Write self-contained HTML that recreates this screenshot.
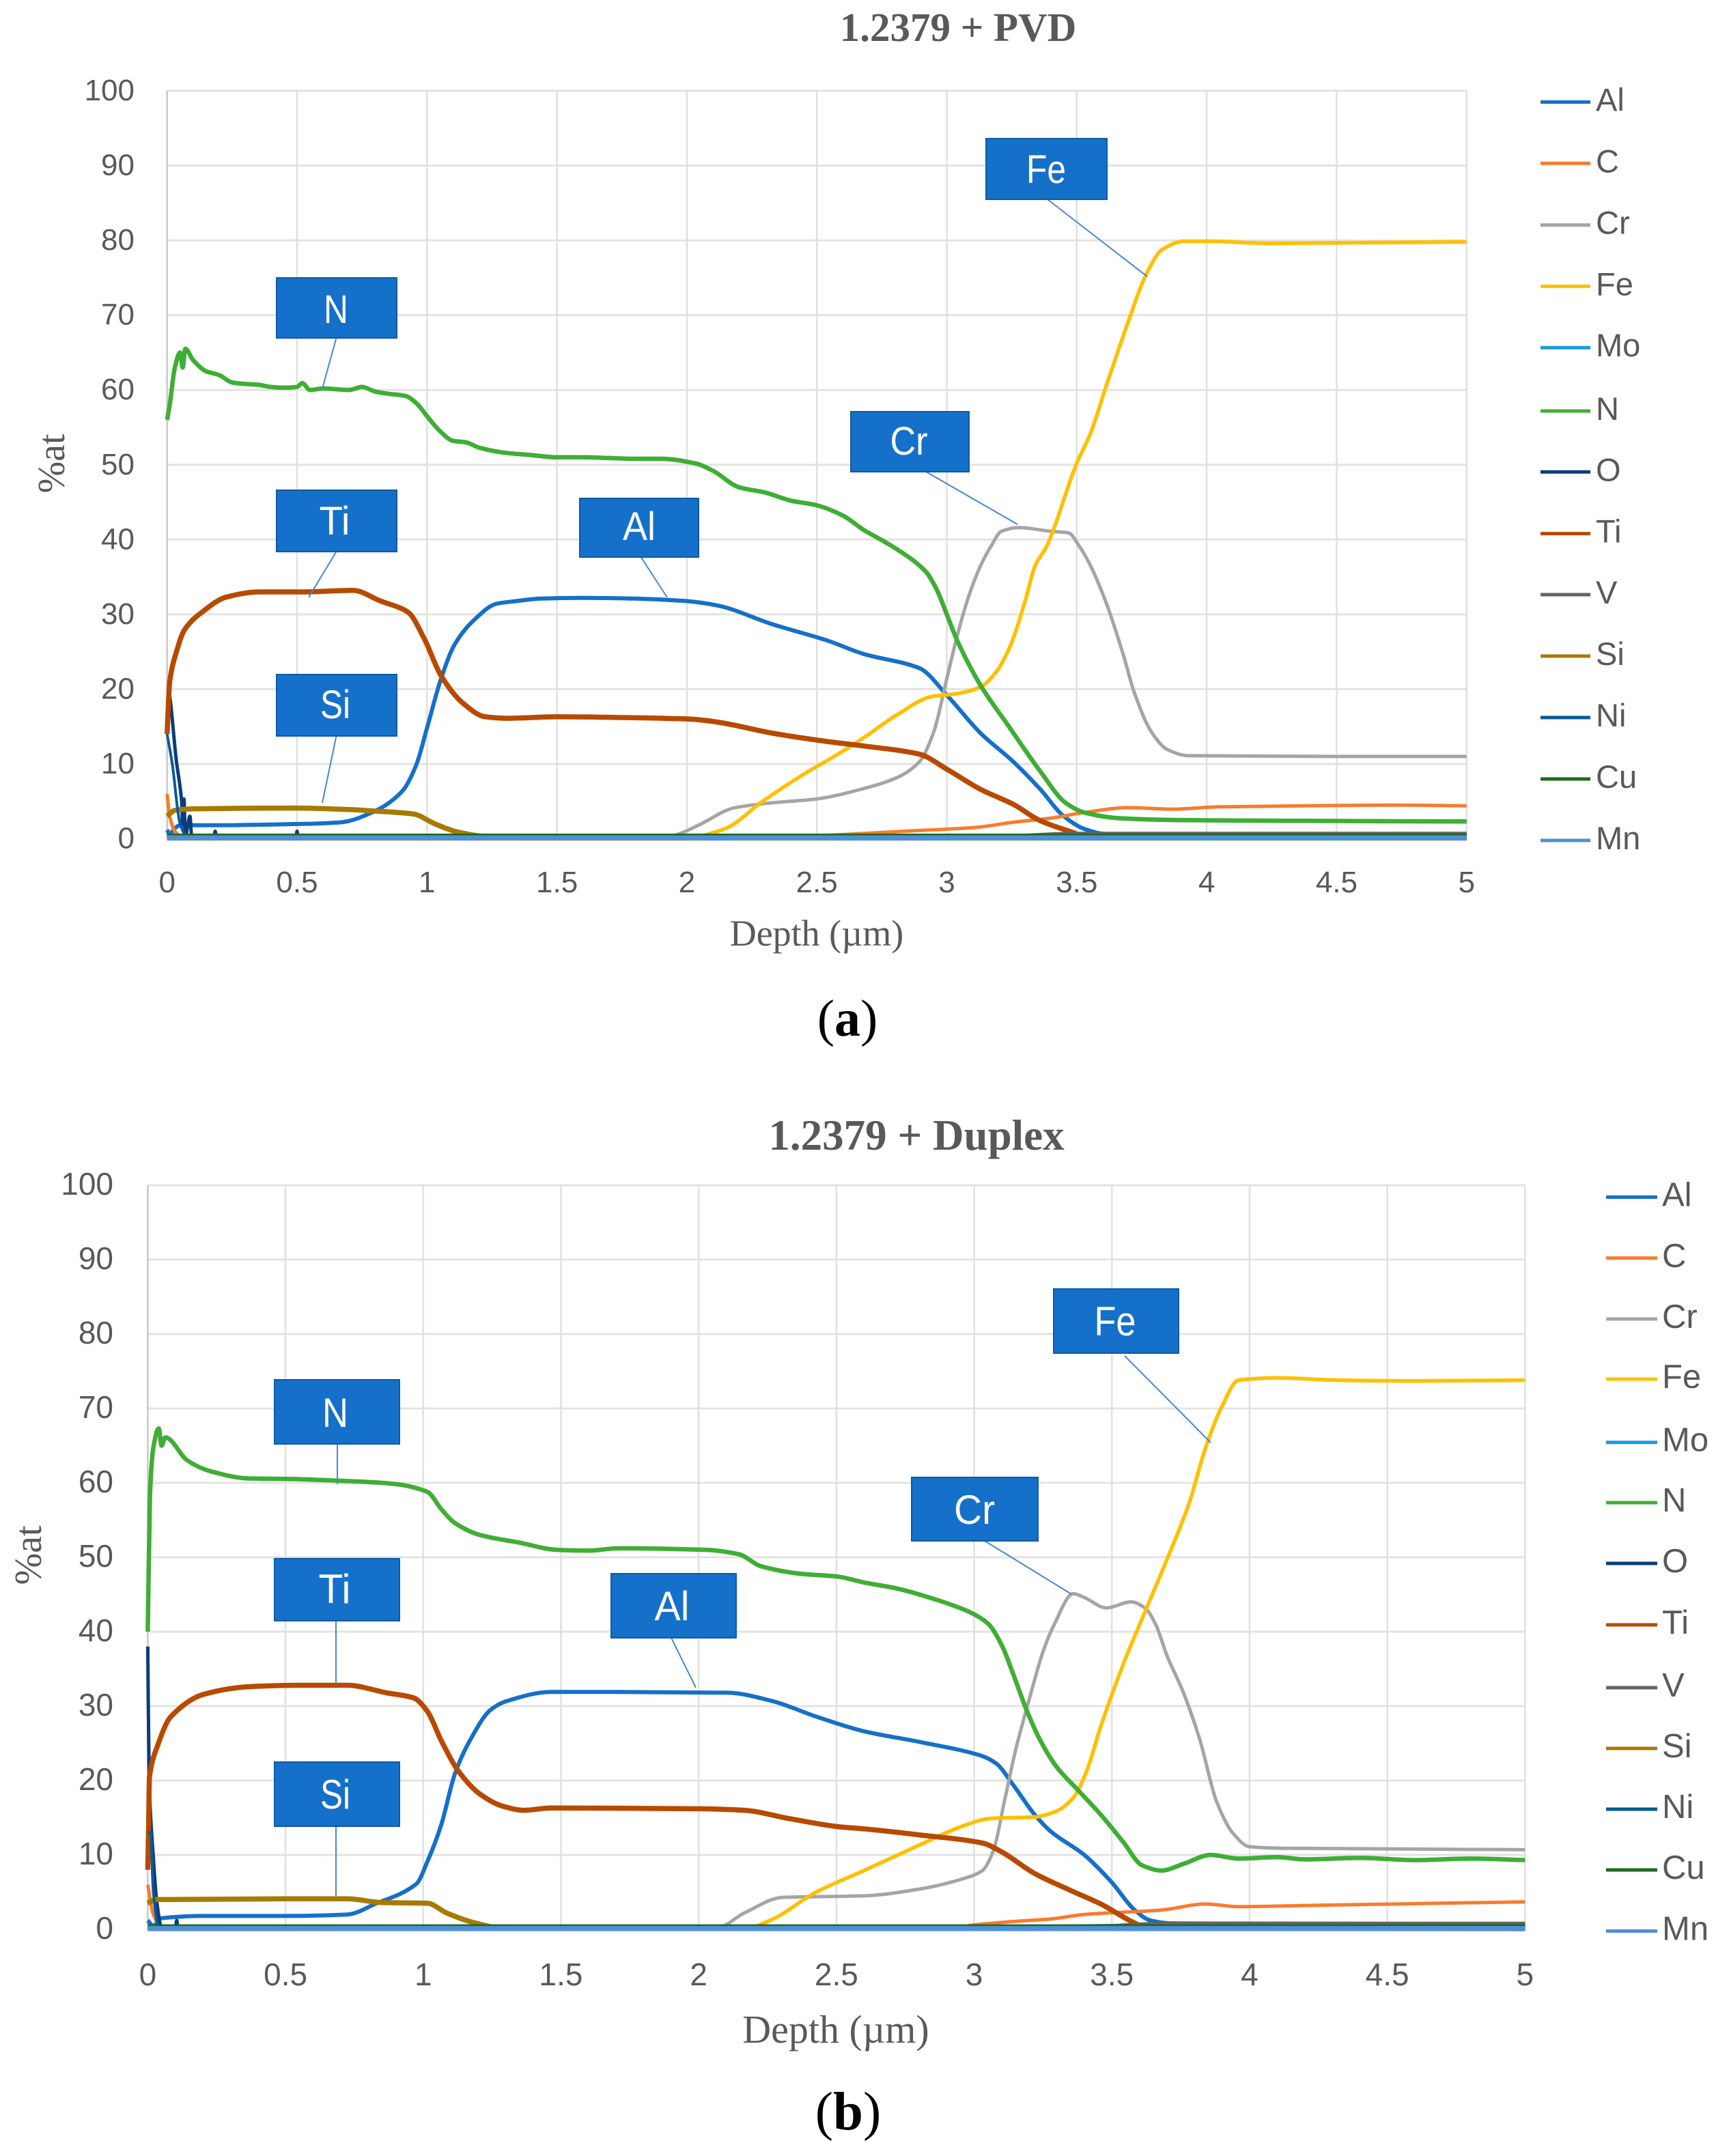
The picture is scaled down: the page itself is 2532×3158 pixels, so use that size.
<!DOCTYPE html>
<html lang="en">
<head>
<meta charset="utf-8">
<title>1.2379 depth profiles</title>
<style>
html,body{margin:0;padding:0;background:#fff;}
svg{display:block;}
.tick{font-family:"Liberation Sans",sans-serif;fill:#595959;}
.serif{font-family:"Liberation Serif",serif;fill:#595959;}
.box{fill:#1570c9;stroke:#0f5aa6;stroke-width:2;}
.boxt{font-family:"Liberation Sans",sans-serif;fill:#fff;text-anchor:middle;}
.lead{stroke:#4a86d0;stroke-width:2;fill:none;}
.cap{font-family:"Liberation Serif",serif;fill:#000;text-anchor:middle;}
</style>
</head>
<body>
<svg id="figure" xmlns="http://www.w3.org/2000/svg" width="2532" height="3158" viewBox="0 0 2532 3158">
<rect x="0" y="0" width="2532" height="3158" fill="#fff"/>

<g id="chartA">
<text class="serif" x="1403" y="60" font-size="59" font-weight="700" text-anchor="middle">1.2379 + PVD</text>
<text class="serif" x="1196" y="1385" font-size="54" text-anchor="middle">Depth (µm)</text>
<text class="serif" font-size="56" text-anchor="middle" transform="translate(94,679) rotate(-90)">%at</text>
</g>
<g id="calloutsA">
<line class="lead" x1="492.5" y1="495" x2="472" y2="569"/>
<line class="lead" x1="492.5" y1="808" x2="452" y2="875"/>
<line class="lead" x1="492.5" y1="1078" x2="472" y2="1176"/>
<line class="lead" x1="938" y1="815" x2="977" y2="875"/>
<line class="lead" x1="1356" y1="691" x2="1490" y2="768"/>
<line class="lead" x1="1534" y1="292" x2="1680" y2="405"/>
<rect class="box" x="405" y="407" width="176" height="88"/>
<text class="boxt" x="492" y="473" font-size="58" textLength="36" lengthAdjust="spacingAndGlyphs">N</text>
<rect class="box" x="405" y="718" width="176" height="90"/>
<text class="boxt" x="490" y="783" font-size="58" textLength="45" lengthAdjust="spacingAndGlyphs">Ti</text>
<rect class="box" x="405" y="988" width="176" height="90"/>
<text class="boxt" x="491" y="1052" font-size="58" textLength="44" lengthAdjust="spacingAndGlyphs">Si</text>
<rect class="box" x="849" y="730" width="174" height="86"/>
<text class="boxt" x="936" y="791" font-size="58" textLength="48" lengthAdjust="spacingAndGlyphs">Al</text>
<rect class="box" x="1246" y="603" width="173" height="88"/>
<text class="boxt" x="1331" y="666" font-size="58" textLength="55" lengthAdjust="spacingAndGlyphs">Cr</text>
<rect class="box" x="1444" y="203" width="177" height="89"/>
<text class="boxt" x="1532" y="268" font-size="58" textLength="58" lengthAdjust="spacingAndGlyphs">Fe</text>
</g>
<text class="cap" x="1241" y="1517" font-size="76">(<tspan font-weight="700">a</tspan>)</text>

<g id="chartB">
<text class="serif" x="1342" y="1684" font-size="63" font-weight="700" text-anchor="middle">1.2379 + Duplex</text>
<text class="serif" x="1224" y="2992" font-size="58" text-anchor="middle">Depth (µm)</text>
<text class="serif" font-size="56" text-anchor="middle" transform="translate(60,2278) rotate(-90)">%at</text>
</g>
<g id="calloutsB">
<line class="lead" x1="494" y1="2115" x2="494" y2="2174"/>
<line class="lead" x1="492" y1="2374" x2="492" y2="2467"/>
<line class="lead" x1="492" y1="2675" x2="492" y2="2777"/>
<line class="lead" x1="983" y1="2399" x2="1019" y2="2472"/>
<line class="lead" x1="1442" y1="2257" x2="1569" y2="2335"/>
<line class="lead" x1="1647" y1="1986" x2="1773" y2="2113"/>
<rect class="box" x="402" y="2021" width="183" height="94"/>
<text class="boxt" x="491" y="2090" font-size="60" textLength="38" lengthAdjust="spacingAndGlyphs">N</text>
<rect class="box" x="402" y="2283" width="183" height="91"/>
<text class="boxt" x="490" y="2348" font-size="60" textLength="47" lengthAdjust="spacingAndGlyphs">Ti</text>
<rect class="box" x="402" y="2581" width="183" height="94"/>
<text class="boxt" x="491" y="2649" font-size="60" textLength="44" lengthAdjust="spacingAndGlyphs">Si</text>
<rect class="box" x="895" y="2305" width="183" height="94"/>
<text class="boxt" x="984" y="2373" font-size="60" textLength="51" lengthAdjust="spacingAndGlyphs">Al</text>
<rect class="box" x="1335" y="2164" width="185" height="93"/>
<text class="boxt" x="1427" y="2232" font-size="60" textLength="60" lengthAdjust="spacingAndGlyphs">Cr</text>
<rect class="box" x="1543" y="1888" width="183" height="94"/>
<text class="boxt" x="1633" y="1956" font-size="60" textLength="61" lengthAdjust="spacingAndGlyphs">Fe</text>
</g>
<text class="cap" x="1242" y="3119" font-size="79">(<tspan font-weight="700">b</tspan>)</text>
</svg>

<script>
// Shared axis labels and series names
const xTicks = [0, 0.5, 1, 1.5, 2, 2.5, 3, 3.5, 4, 4.5, 5];
const yTicks = [0, 10, 20, 30, 40, 50, 60, 70, 80, 90, 100];
const seriesNames = ["Al", "C", "Cr", "Fe", "Mo", "N", "O", "Ti", "V", "Si", "Ni", "Cu", "Mn"];

// Panel (a): 1.2379 + PVD
const aAlDepth = [0,.01,.03,.05, .2,.4,.55,.67, .8,.906,.959,1.0, 1.054,1.107,1.18,1.266, 1.35,1.436,1.6,1.8, 1.988,2.115,2.327,2.54, 2.68,2.895,3.0,3.13, 3.256,3.36,3.447,3.53, 3.617,3.75,5];
const aAlValue = [1.2,.6,1.4,1.8, 1.8,1.9,2.0,2.2, 3.7,6.4,9.9,14.8, 21.4,26,29.2,31.4, 31.8,32.1,32.2,32.1, 31.8,31.2,28.7,26.5, 24.7,22.8,19.2,14.1, 10.3,6.6,3.1,1.3, .6,.5,.5];
const aCDepth = [0,.01,.03,.06, .1,1,2.2,2.5, 2.68,2.895,3.107,3.256, 3.4,3.53,3.7,3.87, 4.04,4.38,4.7,5];
const aCValue = [6,3,1,.2, .1,.1,.1,.4, .7,1.1,1.5,2.2, 2.75,3.5,4.15,3.95, 4.25,4.4,4.5,4.4];
const aCrDepth = [0,1.9,1.966,2.05, 2.18,2.327,2.497,2.68, 2.81,2.895,2.95,3.0, 3.04,3.085,3.13,3.17, 3.21,3.276,3.4,3.468, 3.51,3.553,3.617,3.68, 3.72,3.787,3.85,3.93, 4.5,5];
const aCrValue = [0,.1,.6,1.9, 4.1,4.8,5.3,6.7, 8.2,10.3,14.3,21.4, 27.1,32.5,36.5,39.1, 41.1,41.6,41.1,40.9, 39.1,36.5,31.2,24.5, 19.7,14.3,11.9,11.1, 11,11];
const aFeDepth = [0,2.0,2.07,2.157, 2.284,2.43,2.6,2.68, 2.81,2.94,3.04,3.13, 3.19,3.246,3.3,3.34, 3.384,3.5,3.553,3.617, 3.7,3.765,3.83,3.914, 4.0,4.25,4.6,5];
const aFeValue = [0,0,.5,1.5, 4.8,8.2,11.7,13.5, 16.6,19,19.4,20.3, 22.3,25.9,31.6,36.5, 39.1,50.2,54.2,60.9, 69.3,75.3,78.8,79.9, 79.9,79.6,79.7,79.8];
const aMoDepth = [0,5];
const aMoValue = [.2,.2];
const aNDepth = [0,.01,.03,.05,.06,.07, .1,.15,.2,.25,.3,.35, .4,.45,.5,.52,.55,.6, .7,.75,.8,.85,.917,.96, 1.0,1.05,1.1,1.15,1.2,1.3, 1.4,1.5,1.6,1.7,1.8,1.9, 2.03,2.1,2.2,2.3,2.4,2.497, 2.6,2.68,2.79,2.917,2.96,3.0, 3.04,3.13,3.235,3.36,3.457,3.53, 3.66,3.87,4.3,5];
const aNValue = [56,58,63,65,63,65.5, 64,62.5,62,61,60.8,60.7, 60.4,60.3,60.4,60.9,60,60.2, 60,60.4,59.8,59.5,59.2,58.2, 56.5,54.5,53.2,53,52.3,51.6, 51.3,51,51,50.9,50.8,50.8, 50.2,49.2,47,46.3,45.2,44.6, 43.2,41.3,39.1,35.8,33.4,30, 26.5,20.5,15.2,9,4.8,3.5, 2.75,2.5,2.4,2.3];
const aODepth = [0,.002,.036,.056,.06,.065, .07,.088,.095,.18,.185,.19, .495,.5,.505,3,3.6,5];
const aOValue = [20,20,10.3,5,2,5.3, .3,3,.1,.1,1,.1, .1,1,.1,.2,.5,.5];
const aTiDepth = [0,.005,.01,.036,.068,.142, .227,.354,.52,.715,.82,.927, .99,1.054,1.139,1.224,1.31,1.5, 1.75,2.01,2.116,2.33,2.54,2.68, 2.895,3.0,3.13,3.256,3.36,3.48, 3.54,5];
const aTiValue = [14,18,21,25,28,30.5, 32.3,33,33,33.2,31.8,30.3, 26.7,21.8,18.1,16.3,16.1,16.3, 16.2,16,15.6,14.1,13,12.4, 11.3,9.3,6.6,4.6,2.4,.9, .2,.1];
const aVDepth = [0,2.9,3.2,3.5,5];
const aVValue = [.1,.1,.3,.7,.7];
const aSiDepth = [0,.03,.1,.5,.7, .8,.948,1.03,1.117,1.224, 1.4,5];
const aSiValue = [3,3.8,4,4.1,3.9, 3.7,3.3,2,.9,.3, .1,.1];
const aNiDepth = [0,.02,.05,.08,5];
const aNiValue = [14,10,2,.2,.2];
const aCuDepth = [0,3.5,5];
const aCuValue = [.5,.5,.5];
const aMnDepth = [0,5];
const aMnValue = [.1,.1];

// Panel (b): 1.2379 + Duplex
const bAlDepth = [0,.02,.05,.2, .5,.725,.825,.975, 1.015,1.065,1.115,1.164, 1.245,1.305,1.464,1.7, 2.105,2.265,2.426,2.602, 2.8,3.02,3.08,3.14, 3.22,3.28,3.4,3.5, 3.58,3.64,3.72,5];
const bAlValue = [1.2,.5,1.5,1.8, 1.8,2,3.4,6.1, 9.1,14,20.9,25, 29.5,30.7,31.9,31.9, 31.8,30.7,28.6,26.6, 25.2,23.4,22.3,19.5, 15.4,13.1,10,6.3, 2.7,1.2,.8,.7];
const bCDepth = [0,.02,.05,.1, 2.9,3.0,3.16,3.28, 3.4,3.68,3.84,3.96, 4.2,5];
const bCValue = [6,2,.3,.1, .1,.6,1.1,1.4, 2,2.6,3.4,3.05, 3.2,3.7];
const bCrDepth = [0,2.065,2.166,2.306, 2.6,2.8,2.96,3.03, 3.07,3.11,3.15,3.2, 3.25,3.29,3.36,3.4, 3.48,3.57,3.62,3.66, 3.7,3.76,3.82,3.88, 3.94,4.0,4.12,5];
const bCrValue = [0,.2,2.2,4.3, 4.5,5.4,6.8,7.9, 10.6,17.2,24,30.9, 37.3,40.9,45.1,44.6, 43.2,44,43.2,40.9, 36.8,31.8,25.4,17.2, 12.9,11.1,10.9,10.7];
const bFeDepth = [0,2.166,2.265,2.426, 2.6,2.8,2.96,3.06, 3.22,3.3,3.36,3.41, 3.46,3.54,3.6,3.7, 3.78,3.84,3.9,3.96, 4.1,4.32,4.6,5];
const bFeValue = [0,.1,1.3,5, 7.9,11.3,13.9,14.9, 15.1,15.9,17.7,21.4, 27.3,35.5,40.9,49.7, 57.2,64.7,70.3,73.8, 74.1,73.8,73.7,73.8];
const bMoDepth = [0,5];
const bMoValue = [.2,.2];
const bNDepth = [0,.008,.02,.04,.05,.064, .144,.224,.364,.544,.685,.885, 1.015,1.065,1.115,1.205,1.345,1.485, 1.605,1.705,2.026,2.146,2.226,2.366, 2.505,2.602,2.72,2.862,2.98,3.05, 3.1,3.14,3.19,3.24,3.3,3.38, 3.46,3.54,3.61,3.68,3.76,3.86, 3.96,4.1,4.2,4.4,4.6,4.8, 5];
const bNValue = [40,58.2,64.7,67.3,65,66.1, 63,61.6,60.6,60.5,60.3,59.9, 58.8,56.5,54.6,53,52,51, 50.9,51.2,51,50.4,48.8,47.8, 47.4,46.6,45.8,44.3,42.7,41.1, 38.2,34.5,29.5,25.4,21.8,18.6, 15.4,11.8,8.6,7.9,8.8,10, 9.5,9.7,9.4,9.6,9.3,9.5, 9.3];
const bODepth = [0,.005,.02,.033,.05,.1, .105,.11,3,3.5,5];
const bOValue = [38,20,9.7,3.6,.3,.1, 1.2,.1,.1,.5,.5];
const bTiDepth = [0,.003,.006,.034,.084,.204, .364,.544,.725,.865,.965,1.015, 1.065,1.125,1.205,1.285,1.365,1.464, 2.005,2.166,2.326,2.505,2.6,2.8, 3.03,3.1,3.22,3.34,3.46,3.58, 3.62,5];
const bTiValue = [8,13.7,20.4,24.5,28.6,31.6, 32.6,32.8,32.8,31.8,31.1,29.3, 25.4,21.4,18.2,16.6,16,16.3, 16.2,16,14.9,13.8,13.5,12.7, 11.6,10.4,7.5,5.4,3.4,.9, .3,.1];
const bVDepth = [0,3.2,3.4,3.7,5];
const bVValue = [.1,.1,.3,.8,.8];
const bSiDepth = [0,.03,.5,.725,.85, 1.015,1.085,1.184,1.285,5];
const bSiValue = [3.5,4,4.1,4.1,3.6, 3.5,2.2,.9,.2,.1];
const bNiDepth = [0,.01,.02,.04,5];
const bNiValue = [13,13,5,.3,.3];
const bCuDepth = [0,3.6,5];
const bCuValue = [.5,.5,.5];
const bMnDepth = [0,5];
const bMnValue = [.1,.1];

const seriesColors = ["#1570c8","#f97b2e","#a5a5a5","#ffc000","#1a9cdb","#3fae35","#0b3c7d","#b84a00","#636363","#a67b00","#0a5a96","#1d6a1f","#4f8fd6"];
const seriesWidths = [6,5,5,5.5,3,6.5,5,7.5,5,7.5,4,4,7.5];

const panelA = {
  key:"pvd", host:"chartA", x0:244.7, x1:2147.7, y0:1228.5, y100:133,
  tickFont:44, yLabelRight:197, xLabelY:1307, legendLine:[2256,2329], legendText:2337,
  legendY:[149.5,239.3,329.6,419.4,509.2,602,691.3,781.6,871,961,1051,1141,1231], legendFont:47,
  depths:[aAlDepth,aCDepth,aCrDepth,aFeDepth,aMoDepth,aNDepth,aODepth,aTiDepth,aVDepth,aSiDepth,aNiDepth,aCuDepth,aMnDepth],
  values:[aAlValue,aCValue,aCrValue,aFeValue,aMoValue,aNValue,aOValue,aTiValue,aVValue,aSiValue,aNiValue,aCuValue,aMnValue]
};
const panelB = {
  key:"duplex", host:"chartB", x0:216.4, x1:2233.3, y0:2826, y100:1736,
  tickFont:46, yLabelRight:166, xLabelY:2908, legendLine:[2352,2427], legendText:2434,
  legendY:[1753.5,1842.8,1932,2020,2112.7,2201,2290,2380,2472,2561,2650,2739,2828.5], legendFont:49,
  depths:[bAlDepth,bCDepth,bCrDepth,bFeDepth,bMoDepth,bNDepth,bODepth,bTiDepth,bVDepth,bSiDepth,bNiDepth,bCuDepth,bMnDepth],
  values:[bAlValue,bCValue,bCrValue,bFeValue,bMoValue,bNValue,bOValue,bTiValue,bVValue,bSiValue,bNiValue,bCuValue,bMnValue]
};

const SVGNS = "http://www.w3.org/2000/svg";
function make(tag, attrs, parent) {
  const el = document.createElementNS(SVGNS, tag);
  for (const k in attrs) el.setAttribute(k, attrs[k]);
  parent.appendChild(el);
  return el;
}

// Monotone cubic path through the data points, so curves stay smooth without overshoot.
function smoothPath(xs, ys) {
  const n = xs.length;
  if (n < 3) return "M" + xs.map((x, i) => x.toFixed(1) + "," + ys[i].toFixed(1)).join("L");
  const slopes = [];
  for (let i = 0; i < n - 1; i++) slopes.push((ys[i + 1] - ys[i]) / (xs[i + 1] - xs[i]));
  const tangents = [slopes[0]];
  for (let i = 1; i < n - 1; i++) {
    const a = slopes[i - 1], b = slopes[i];
    tangents.push(a * b <= 0 ? 0 : 2 * a * b / (a + b));
  }
  tangents.push(slopes[n - 2]);
  let d = "M" + xs[0].toFixed(1) + "," + ys[0].toFixed(1);
  for (let i = 0; i < n - 1; i++) {
    const h = (xs[i + 1] - xs[i]) / 3;
    d += "C" + (xs[i] + h).toFixed(1) + "," + (ys[i] + tangents[i] * h).toFixed(1) + " "
      + (xs[i + 1] - h).toFixed(1) + "," + (ys[i + 1] - tangents[i + 1] * h).toFixed(1) + " "
      + xs[i + 1].toFixed(1) + "," + ys[i + 1].toFixed(1);
  }
  return d;
}

function drawPanel(p) {
  const host = document.getElementById(p.host);
  const xScale = d => p.x0 + (d / 5) * (p.x1 - p.x0);
  const yScale = v => p.y0 - (v / 100) * (p.y0 - p.y100);

  yTicks.forEach(t => {
    const grid = make("line", {x1:p.x0, x2:p.x1, y1:yScale(t), y2:yScale(t), stroke:"#e3e3e3", "stroke-width":3}, host);
    
    
    const label = make("text", {x:p.yLabelRight, y:yScale(t) + 14, class:"tick", "font-size":p.tickFont, "text-anchor":"end"}, host);
    
    
    label.textContent = t;
  });
  xTicks.forEach(t => {
    const grid = make("line", {x1:xScale(t), x2:xScale(t), y1:p.y100, y2:p.y0, stroke: t === 0 ? "#c8c8c8" : "#e0e0e0", "stroke-width":2.5}, host);
    
    
    const label = make("text", {x:xScale(t), y:p.xLabelY, class:"tick", "font-size":p.tickFont, "text-anchor":"middle"}, host);
    
    
    label.textContent = t;
  });

  seriesNames.forEach((name, i) => {
    const d = smoothPath(p.depths[i].map(xScale), p.values[i].map(yScale));
    const line = make("path", {d:d, fill:"none", stroke:seriesColors[i], "stroke-width":seriesWidths[i], "stroke-linejoin":"round", "stroke-linecap":"butt"}, host);
    
    
  });

  seriesNames.forEach((name, i) => {
    const swatch = make("line", {x1:p.legendLine[0], x2:p.legendLine[1], y1:p.legendY[i], y2:p.legendY[i], stroke:seriesColors[i], "stroke-width":5}, host);
    
    
    const label = make("text", {x:p.legendText, y:p.legendY[i] + 13, class:"tick", "font-size":p.legendFont}, host);
    
    
    label.textContent = name;
  });
}
drawPanel(panelA);
drawPanel(panelB);
</script>
</body>
</html>
